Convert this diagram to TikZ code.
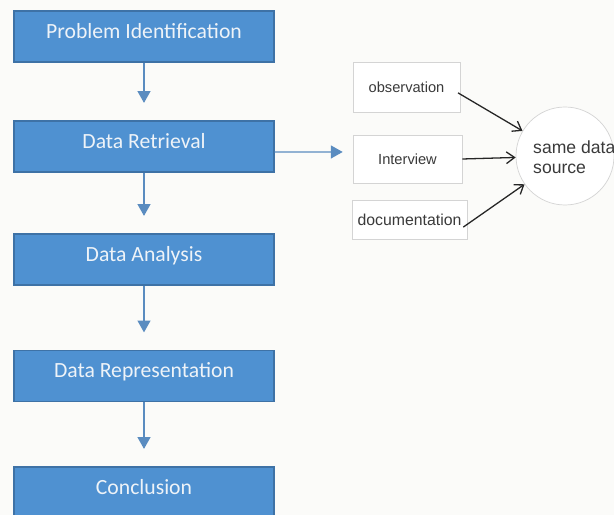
\documentclass[tikz,border=0pt]{standalone}
\usepackage{fontspec}
\setmainfont{Liberation Sans}
\newfontfamily\stagefont{Carlito}
\usetikzlibrary{arrows.meta}

\definecolor{bgpaper}{HTML}{FBFBF9}
\definecolor{stagefill}{HTML}{4F91D1}
\definecolor{stageline}{HTML}{3E72A6}
\definecolor{stagetext}{HTML}{EEF3F8}
\definecolor{flowblue}{HTML}{5A8CC0}
\definecolor{methodline}{HTML}{D4D4D4}
\definecolor{methodtext}{HTML}{3A3A3A}

\tikzset{
  stagebox/.style={draw=stageline, fill=stagefill, line width=0.9pt, inner sep=0pt,
    minimum width=7.8cm, minimum height=1.53cm, text=stagetext,
    text height=13pt, text depth=10pt,
    font=\stagefont\fontsize{18.5}{20}\selectfont},
  methodbox/.style={draw=methodline, fill=white, line width=0.6pt, inner sep=0pt,
    text=methodtext, font=\fontsize{12.5}{14}\selectfont},
  flowarrow/.style={draw=flowblue, line width=0.9pt, -{Triangle[width=11pt,length=10pt]}},
  inarrow/.style={draw=black!85, line width=1.1pt, -{Straight Barb[width=10pt,length=7pt]}}
}

\begin{document}
\begin{tikzpicture}[x=0.03cm,y=-0.03cm]
      \fill [bgpaper] (0,0) rectangle (614,515);
      \clip (0,0) rectangle (614,515);

      \foreach \name/\y/\txt in {prob/36.5/Problem Identification, ret/146.5/Data Retrieval,
        ana/259.5/Data Analysis, rep/376/Data Representation, con/492.5/Conclusion}
        \node [stagebox] (\name) at (144,\y) {\txt};
      \foreach \a/\b in {prob/ret, ret/ana, ana/rep, rep/con}
        \draw [flowarrow, shorten >=15pt] (\a) -- (\b);

      \node [methodbox, minimum width=3.21cm, minimum height=1.5cm] (obs) at (406.5,87) {observation};
      \node [methodbox, minimum width=3.27cm, minimum height=1.44cm] (intv) at (407.5,159) {Interview};
      \node [methodbox, minimum width=3.45cm, minimum height=1.17cm,
        font=\fontsize{13.5}{15}\selectfont] (doc) at (409.5,219.5) {documentation};

      \node [circle, draw=methodline, fill=white, line width=0.6pt, minimum size=2.94cm] (src) at (565,156) {};
      \node [anchor=west, align=left, inner sep=0pt, text=methodtext,
        font=\fontsize{15}{17.5}\selectfont] (srctext) at (533,157) {same data\\source};

      \draw [flowarrow, shorten >=8.5pt] ([yshift=-4.7pt]ret.east) -- ([yshift=6pt]intv.west);
      \draw [inarrow] ([yshift=-5pt,xshift=-2pt]obs.east) -- (src);
      \draw [inarrow] (intv.east) -- (src);
      \draw [inarrow] ([xshift=-3.5pt,yshift=-6.5pt]doc.east) -- (src);
\end{tikzpicture}
\end{document}
